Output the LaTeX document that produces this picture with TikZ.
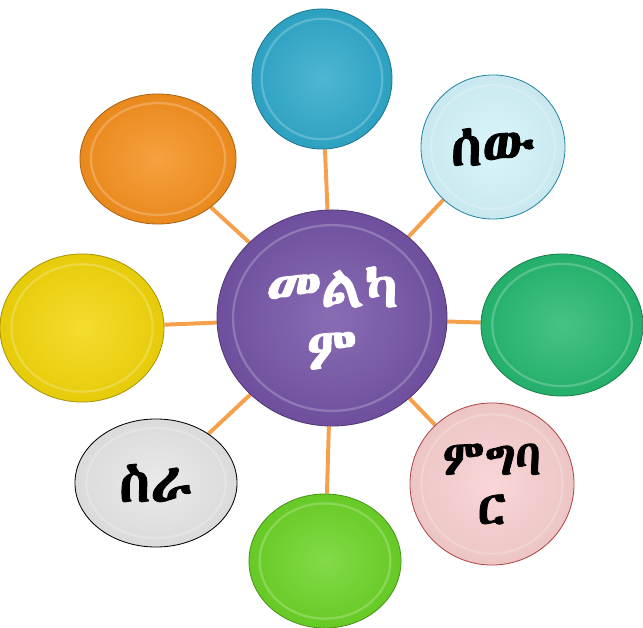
\documentclass[tikz,border=0pt]{standalone}
\usepackage{fontspec}
\IfFontExistsTF{Abyssinica SIL}
  {\newfontfamily\ethfont[Script=Ethiopic,FakeBold=1.5]{Abyssinica SIL}}
  {\IfFontExistsTF{FreeSerif}
    {\newfontfamily\ethfont[Script=Ethiopic,FakeBold=1.5]{FreeSerif}}
    {\newfontfamily\ethfont{DejaVu Sans}}}
\usetikzlibrary{shapes.geometric,backgrounds,calc}
\definecolor{HubPurple}{HTML}{7453A6}
\definecolor{SkyTeal}{HTML}{2FA9CB}
\definecolor{IceCyan}{HTML}{D3F4FB}
\definecolor{SeaGreen}{HTML}{25B870}
\definecolor{BlushPink}{HTML}{F9CFCF}
\definecolor{LimeGreen}{HTML}{6CD427}
\definecolor{CloudGrey}{HTML}{E6E6E6}
\definecolor{SunYellow}{HTML}{F3D60A}
\definecolor{DeepOrange}{HTML}{F5901E}
\definecolor{LinkOrange}{HTML}{F5A04A}

\begin{document}
\begin{tikzpicture}[
    x=0.025cm, y=-0.025cm,
    bub/.style={ellipse, draw=#1!70!black, line width=0.6pt, inner color=#1!85!white, outer color=#1!95!black,
      inner sep=0pt, align=center, font=\ethfont\bfseries\fontsize{40}{42}\selectfont,
      path picture={\draw[white, opacity=.22, line width=1.6pt] let \p1=(path picture bounding box.north east), \p2=(path picture bounding box.center) in (\p2) ellipse ({0.86*(\x1-\x2)} and {0.86*(\y1-\y2)});}},
    link/.style={draw=LinkOrange, line width=2.8pt}
  ]
    \useasboundingbox (0,0) rectangle (643,628);
    \node[bub=HubPurple, minimum width=5.75cm, minimum height=5.4cm, text=white,
      font=\ethfont\bfseries\fontsize{42}{44}\selectfont] (hub) at (332,318) {መልካ\\ም};
    \node[bub=SkyTeal, minimum width=3.5cm, minimum height=3.5cm] (top) at (322,79) {};
    \node[bub=IceCyan, draw=SkyTeal!80!black, minimum width=3.6cm, minimum height=3.6cm] (man) at (493,147) {ሰው};
    \node[bub=SeaGreen, minimum width=4.05cm, minimum height=3.55cm] (east) at (562,325) {};
    \node[bub=BlushPink, draw=BlushPink!50!red!70!black, minimum width=4.1cm, minimum height=4.05cm,
      font=\ethfont\bfseries\fontsize{35}{35}\selectfont] (deed) at (492,484) {ምግባ\\ር};
    \node[bub=LimeGreen, minimum width=3.8cm, minimum height=3.35cm] (bottom) at (325,561) {};
    \node[bub=CloudGrey, draw=black, minimum width=4.05cm, minimum height=3.2cm] (work) at (156,483) {ስራ};
    \node[bub=SunYellow, minimum width=4.1cm, minimum height=3.7cm] (west) at (82,328) {};
    \node[bub=DeepOrange, minimum width=3.9cm, minimum height=3.25cm] (corner) at (158,159) {};
    \begin{scope}[on background layer]
      \foreach \n in {top,man,east,deed,bottom,work,west,corner}
        \draw[link] (hub) -- (\n);
    \end{scope}
  \end{tikzpicture}
\end{document}
